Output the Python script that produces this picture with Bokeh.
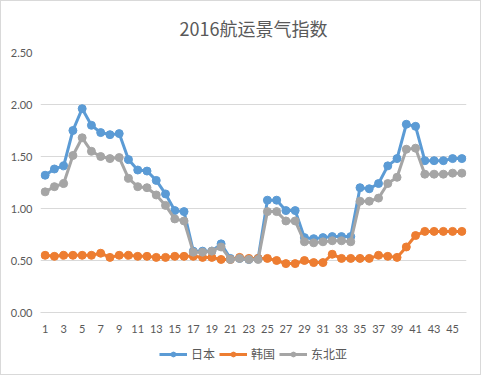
from bokeh.plotting import figure
from bokeh.layouts import column
from bokeh.models import Range1d, FixedTicker, Legend, LegendItem, NumeralTickFormatter, ColumnDataSource
from bokeh.embed import file_html
from bokeh.resources import INLINE

weeks = list(range(1, 47))
japan = [1.32, 1.38, 1.41, 1.75, 1.96, 1.80, 1.73, 1.71, 1.72, 1.47,
         1.37, 1.36, 1.27, 1.14, 0.98, 0.97, 0.59, 0.59, 0.59, 0.66,
         0.52, 0.52, 0.51, 0.52, 1.08, 1.08, 0.98, 0.98, 0.72, 0.71,
         0.72, 0.73, 0.73, 0.73, 1.20, 1.19, 1.24, 1.41, 1.48, 1.81,
         1.79, 1.46, 1.46, 1.46, 1.48, 1.48]
korea = [0.55, 0.54, 0.55, 0.55, 0.55, 0.55, 0.57, 0.53, 0.55, 0.55,
         0.54, 0.54, 0.53, 0.53, 0.54, 0.54, 0.54, 0.53, 0.53, 0.51,
         0.51, 0.53, 0.52, 0.52, 0.52, 0.50, 0.47, 0.47, 0.50, 0.48,
         0.48, 0.56, 0.52, 0.52, 0.52, 0.52, 0.55, 0.54, 0.53, 0.63,
         0.74, 0.78, 0.78, 0.78, 0.78, 0.78]
neasia = [1.16, 1.21, 1.24, 1.51, 1.68, 1.55, 1.50, 1.48, 1.49, 1.29,
          1.21, 1.20, 1.13, 1.03, 0.90, 0.88, 0.58, 0.58, 0.59, 0.63,
          0.51, 0.52, 0.51, 0.51, 0.97, 0.97, 0.88, 0.88, 0.68, 0.67,
          0.68, 0.69, 0.69, 0.68, 1.07, 1.07, 1.10, 1.24, 1.30, 1.57,
          1.58, 1.33, 1.33, 1.33, 1.34, 1.34]
series_names = ["日本", "韩国", "东北亚"]
colors = ["#5B9BD5", "#ED7D31", "#A5A5A5"]
y_ticks = [0.0, 0.5, 1.0, 1.5, 2.0, 2.5]
x_ticks = list(range(1, 46, 2))

TEXT = "#595959"
GRID = "#D9D9D9"

p = figure(width=479, height=341, output_backend="svg", toolbar_location=None,
           x_range=Range1d(0.5, 46.5), y_range=Range1d(0, 2.5),
           min_border_left=39, min_border_right=14, min_border_top=50, min_border_bottom=30)
p.outline_line_color = None

p.title.text = "2016航运景气指数"
p.title.align = "center"
p.title.text_font = "Noto Sans CJK SC"
p.title.text_font_size = "18px"
p.title.text_font_style = "normal"
p.title.text_color = TEXT
p.title.standoff = 23

p.xgrid.grid_line_color = None
p.ygrid.grid_line_color = GRID
p.ygrid.ticker = FixedTicker(ticks=y_ticks)

p.yaxis.ticker = FixedTicker(ticks=y_ticks)
p.yaxis.formatter = NumeralTickFormatter(format="0.00")
p.yaxis.axis_line_color = None
p.yaxis.major_tick_line_color = None
p.yaxis.minor_tick_line_color = None
p.yaxis.major_tick_out = 0
p.yaxis.major_tick_in = 0
p.yaxis.minor_tick_out = 0
p.yaxis.major_label_text_color = TEXT
p.yaxis.major_label_text_font = "Lato"
p.yaxis.major_label_text_font_size = "11px"
p.yaxis.major_label_standoff = 8

p.xaxis.ticker = FixedTicker(ticks=x_ticks)
p.xaxis.axis_line_color = GRID
p.xaxis.major_tick_line_color = None
p.xaxis.minor_tick_line_color = None
p.xaxis.major_tick_out = 0
p.xaxis.major_tick_in = 0
p.xaxis.minor_tick_out = 0
p.xaxis.major_label_text_color = TEXT
p.xaxis.major_label_text_font = "Lato"
p.xaxis.major_label_text_font_size = "11px"
p.xaxis.major_label_standoff = 12

# legend strip: same series, plotted out of view so only the legend shows
lg = figure(width=479, height=32, output_backend="svg", toolbar_location=None,
            min_border=0, x_range=Range1d(100, 101), y_range=Range1d(100, 101))
lg.outline_line_color = None
lg.xaxis.visible = False
lg.yaxis.visible = False
lg.grid.visible = False

items = []
for name, vals, c in zip(series_names, [japan, korea, neasia], colors):
    src = ColumnDataSource(dict(x=weeks, y=vals))
    p.line("x", "y", source=src, line_color=c, line_width=3)
    p.scatter("x", "y", source=src, size=8, fill_color=c, line_color=c)
    l2 = lg.line("x", "y", source=src, line_color=c, line_width=3)
    s2 = lg.scatter("x", "y", source=src, size=8, fill_color=c, line_color=c)
    items.append(LegendItem(label=name, renderers=[l2, s2]))

legend = Legend(items=items, orientation="horizontal", location="top_center",
                label_text_font="Noto Sans CJK SC", label_text_font_size="12px",
                label_text_color=TEXT, glyph_width=28, glyph_height=12,
                label_standoff=4, spacing=4, padding=2, margin=3,
                border_line_color=None, background_fill_alpha=0)
lg.add_layout(legend, "center")

layout = column(p, lg, spacing=0, styles={"border": "1px solid #D9D9D9"})

open("out.html", "w").write(file_html(layout, INLINE))
